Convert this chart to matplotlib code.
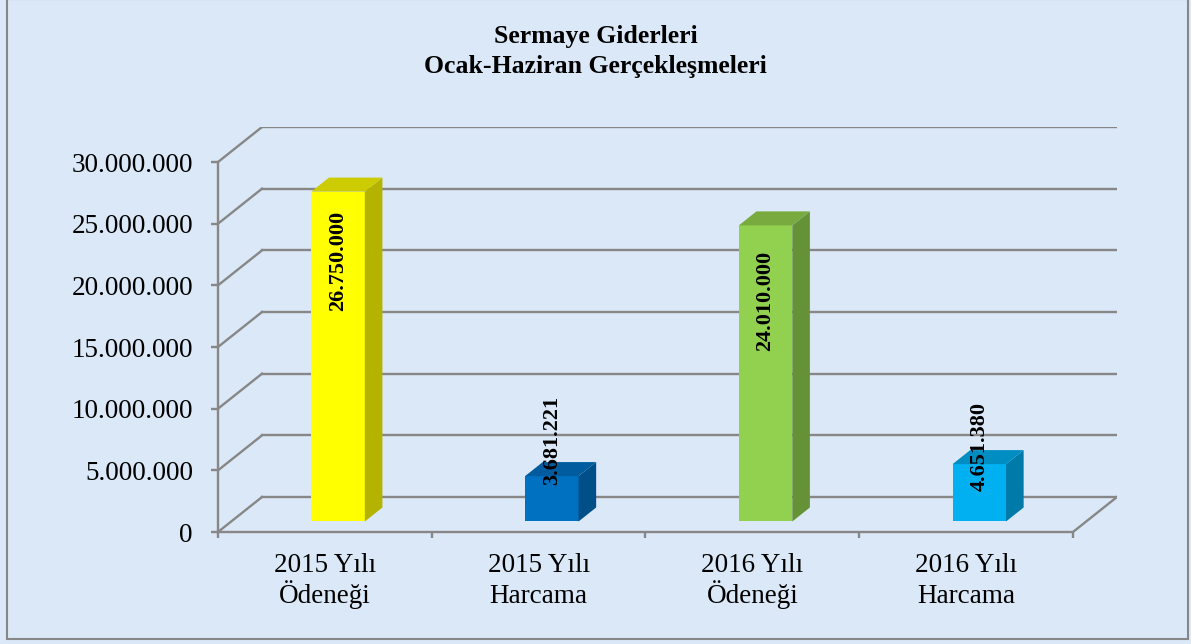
import numpy as np
import matplotlib.pyplot as plt
from matplotlib.patches import Polygon, Rectangle

plt.rcParams['font.family'] = ['Liberation Serif', 'DejaVu Serif']

# data
categories = ['2015 Yılı\nÖdeneği', '2015 Yılı\nHarcama', '2016 Yılı\nÖdeneği', '2016 Yılı\nHarcama']
values = [26750000, 3681221, 24010000, 4651380]
value_labels = ['26.750.000', '3.681.221', '24.010.000', '4.651.380']
y_ticks = [0, 5000000, 10000000, 15000000, 20000000, 25000000, 30000000]

front_colors = ['#FFFF00', '#0070C0', '#92D050', '#00B0F0']
side_colors = ['#B3B300', '#004F88', '#669237', '#007AA8']
top_colors = ['#CCCC00', '#005C9E', '#78AA40', '#008DC2']

# fake 3d: depth offset in data units
DX = 0.206
DY = 2.84e6
D0, D1 = 0.3, 0.7   # bar depth range
BW = 0.25           # bar width
GRID = '#878787'

fig = plt.figure(figsize=(11.91, 6.44), dpi=100)
fig.patch.set_facecolor('#DAE8F7')
fig.patches.append(Rectangle((7 / 1191, 5 / 644), 1181 / 1191, 640 / 644,
                             transform=fig.transFigure, fill=False,
                             edgecolor=GRID, lw=1.5))

ax = fig.add_axes([218 / 1191, 1 - 532 / 644, 899 / 1191, 405 / 644])
ax.set_facecolor('none')
ax.set_xlim(0, 4 + DX)
ax.set_ylim(0, y_ticks[-1] + DY)

# walls
for v in y_ticks:
    ax.plot([DX, 4 + DX], [v + DY, v + DY], color=GRID, lw=1.7, zorder=1)
    ax.plot([0, DX], [v, v + DY], color=GRID, lw=1.7, zorder=1)
ax.plot([4, 4 + DX], [0, DY], color=GRID, lw=1.7, zorder=1)

# bars
xs = np.arange(len(values)) + 0.5
ax.bar(xs + D0 * DX, values, width=BW, bottom=D0 * DY, color=front_colors,
       edgecolor='none', zorder=3)
for i, v in enumerate(values):
    x0 = xs[i] - BW / 2 + D0 * DX
    x1 = x0 + BW
    b = D0 * DY
    t = v + D0 * DY
    ddx = (D1 - D0) * DX
    ddy = (D1 - D0) * DY
    ax.add_patch(Polygon([[x1, b], [x1 + ddx, b + ddy], [x1 + ddx, t + ddy], [x1, t]],
                         closed=True, facecolor=side_colors[i], edgecolor='none', zorder=3))
    ax.add_patch(Polygon([[x0, t], [x1, t], [x1 + ddx, t + ddy], [x0 + ddx, t + ddy]],
                         closed=True, facecolor=top_colors[i], edgecolor='none', zorder=3))

# value labels (rotated)
label_top = [-1.6e6, 6.5e6, -2.1e6, 5.0e6]
for i, v in enumerate(values):
    ax.text(xs[i] + D0 * DX, v + D0 * DY + label_top[i], value_labels[i],
            rotation=90, ha='center', va='top', fontsize=16, fontweight='bold',
            color='black', zorder=5)

# axes
for s in ['top', 'right']:
    ax.spines[s].set_visible(False)
ax.spines['left'].set_bounds(0, y_ticks[-1])
ax.spines['bottom'].set_bounds(0, 4)
for s in ['left', 'bottom']:
    ax.spines[s].set_color(GRID)
    ax.spines[s].set_linewidth(1.7)

ax.set_yticks(y_ticks)
ax.set_yticklabels([f'{v:,.0f}'.replace(',', '.') for v in y_ticks])
ax.tick_params(axis='y', length=5, width=1.7, color=GRID, pad=13, labelsize=19.5)
ax.set_xticks([0, 1, 2, 3, 4])
ax.set_xticklabels([])
ax.tick_params(axis='x', length=4, width=1.7, color=GRID, direction='out')

# category labels, two lines each with fixed baselines
for i, lab in enumerate(categories):
    for j, line in enumerate(lab.split('\n')):
        ax.annotate(line, xy=(xs[i], 0), xycoords=('data', 'axes fraction'),
                    xytext=(0, -29 - 22 * j), textcoords='offset points',
                    ha='center', va='baseline', fontsize=19.5, annotation_clip=False)

fig.text(0.5, 1 - 37 / 644, 'Sermaye Giderleri', ha='center', va='center',
         fontsize=18.5, fontweight='bold')
fig.text(0.5, 1 - 67 / 644, 'Ocak-Haziran Gerçekleşmeleri', ha='center', va='center',
         fontsize=18.5, fontweight='bold')

plt.savefig('out.png', dpi=100, facecolor=fig.get_facecolor())
